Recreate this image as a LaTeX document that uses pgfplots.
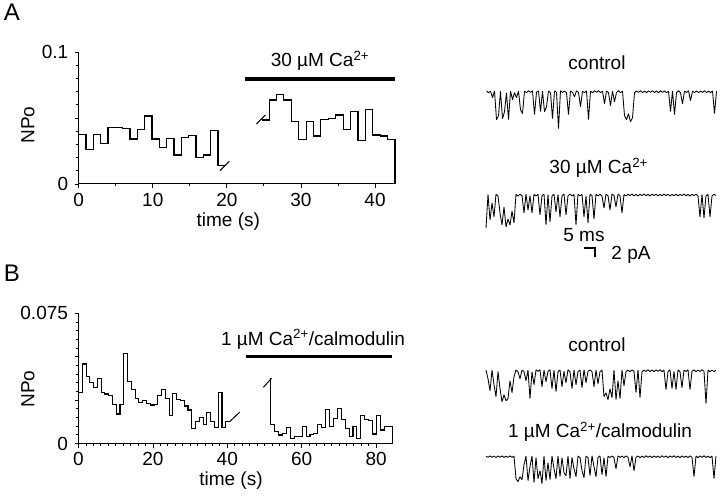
\documentclass[border=0pt]{standalone}
\usepackage{fontspec}
\setmainfont{Liberation Sans}
\usepackage{pgfplots}
\usepackage{pgfplotstable}
\pgfplotsset{compat=1.18}
\begin{document}
\fontsize{19}{22}\selectfont
\begin{tikzpicture}
\path[use as bounding box] (0pt,0pt) rectangle (720pt,-497pt);
\pgfplotsset{
  npo/.style={
    scale only axis, axis lines=left, axis line style={-, line width=1pt, black},
    tick align=outside, major tick length=4pt, minor tick length=2.5pt,
    tick style={black, line width=0.8pt},
    tick label style={font=\fontsize{19}{22}\selectfont},
    xticklabel style={inner sep=2pt, yshift=-3pt},
    /pgf/number format/assume math mode=true,
    scaled y ticks=false, scaled x ticks=false,
    clip=false, ymin=0,
  },
  hist/.style={const plot, black, line width=1.1pt, mark=none, line join=miter},
  slash/.style={black, line width=1pt, mark=none},
  bar/.style={black, line width=3.4pt, mark=none},
  trace/.style={scale only axis, hide axis, clip=false, xmin=0, xmax=230, ymin=-40, ymax=5, width=230pt, height=45pt},
  tr/.style={black, line width=0.85pt, mark=none, line join=bevel},
}
% ---------------- Panel A, NPo vs time ----------------
\begin{axis}[npo, at={(78.7pt,-184pt)}, anchor=south west,
  width=316.3pt, height=132pt, xmin=0, xmax=42.7, ymax=0.1,
  xtick={0,10,20,30,40}, minor tick num=1,
  ytick={0,0.05,0.1}, yticklabels={0,,0.1},
  minor ytick={0.01,0.02,0.03,0.04,0.06,0.07,0.08,0.09}]
\addplot[hist] coordinates {
 (0,0.0376) (0.99,0.0258) (1.98,0.0376) (2.97,0.0306) (3.96,0.0427) (4.95,0.0429)
 (5.94,0.0419) (6.93,0.0341) (7.92,0.0414) (8.91,0.0515) (9.9,0.0341) (10.89,0.0278)
 (11.88,0.0346) (12.87,0.0220) (13.86,0.0354) (14.85,0.0366) (15.84,0.0202) (16.83,0.0220)
 (17.82,0.0407) (18.81,0.0141) (19.7,0.0141)};
\addplot[slash] coordinates {(19.07,0.0101) (20.33,0.0172)};
\addplot[slash] coordinates {(24.0,0.0455) (25.2,0.0523)};
\addplot[hist] coordinates {
 (24.8,0.0485) (25.7,0.0636) (26.7,0.0679) (27.7,0.0636) (28.7,0.0473) (29.7,0.0339)
 (30.7,0.0473) (31.7,0.0364) (32.7,0.0490) (33.7,0.0497) (34.7,0.0523) (35.7,0.0414)
 (36.7,0.0548) (37.7,0.0327) (38.7,0.0561) (39.7,0.0371) (40.7,0.0364) (41.7,0.0339)
 (42.7,0.0339) (42.7,0)};
\addplot[bar] coordinates {(22.5,0.0795) (42.7,0.0795)};
\end{axis}
% ---------------- Panel B, NPo vs time ----------------
\begin{axis}[npo, at={(78.5pt,-443.5pt)}, anchor=south west,
  width=313.6pt, height=130.2pt, xmin=0, xmax=84.3, ymax=0.075,
  xtick={0,20,40,60,80}, minor tick num=9,
  ytick={0,0.025,0.05,0.075}, yticklabels={0,,,0.075},
  minor ytick={0.005,0.01,0.015,0.02,0.03,0.035,0.04,0.045,0.055,0.06,0.065,0.07}]
\addplot[hist] coordinates {
 (0,0.0295) (1.015,0.0458) (2.03,0.0385) (3.045,0.0350) (4.06,0.0323) (5.075,0.0375)
 (6.09,0.0293) (7.105,0.0285) (8.12,0.0274) (9.135,0.0227) (10.15,0.0170) (11.165,0.0227)
 (12.18,0.0516) (13.195,0.0356) (14.21,0.0312) (15.225,0.0260) (16.24,0.0235) (17.255,0.0250)
 (18.27,0.0231) (19.285,0.0222) (20.3,0.0227) (21.315,0.0274) (22.33,0.0312) (23.345,0.0260)
 (24.36,0.0159) (25.375,0.0289) (26.39,0.0254) (27.405,0.0248) (28.42,0.0216) (29.435,0.0193)
 (30.45,0.0088) (31.465,0.0126) (32.48,0.0150) (33.495,0.0107) (34.51,0.0177) (35.525,0.0126)
 (36.54,0.0094) (37.555,0.0293) (38.57,0.0094) (39.585,0.0125) (40.6,0.0125)};
\addplot[slash] coordinates {(40.6,0.0125) (43.3,0.0180)};
\addplot[slash] coordinates {(49.7,0.0324) (51.9,0.0376)};
\addplot[hist] coordinates {
 (51.7,0.0376) (51.7,0.0107) (52.75,0.0068) (53.80,0.0049) (54.85,0.0058) (55.91,0.0092)
 (56.96,0.0030) (58.01,0.0040) (59.06,0.0040) (60.11,0.0100) (61.17,0.0040) (62.22,0.0053)
 (63.27,0.0058) (64.32,0.0107) (65.37,0.0092) (66.43,0.0197) (67.48,0.0100) (68.53,0.0145)
 (69.58,0.0203) (70.63,0.0136) (71.69,0.0088) (72.74,0.0040) (73.79,0.0100) (74.84,0.0030)
 (75.89,0.0159) (76.95,0.0140) (78.00,0.0132) (79.05,0.0055) (80.10,0.0159) (81.15,0.0078)
 (82.21,0.0100) (83.26,0.0100) (84.3,0.0100) (84.3,0)};
\addplot[bar] coordinates {(44.9,0.05) (84.3,0.05)};
\end{axis}
% ---------------- Single-channel traces ----------------
\pgfplotstableread[header=false, row sep=\\]{
0.8\\-1\\0.5\\-6\\0.7\\-28\\-24\\0.5\\-27\\-20\\-1\\-28\\0.6\\-8\\-0.8\\-6\\0.8\\-18\\-22\\0.5\\
-1\\0.9\\-0.7\\1\\-23\\-0.5\\0.8\\-20\\0.6\\-20\\-15\\0.7\\-1\\-27\\0.8\\-0.6\\-37\\1\\-0.8\\0.6\\
-1\\-23\\0.8\\-0.7\\-5\\1\\-0.8\\-15\\0.6\\-1\\0.8\\-28\\0.5\\-1\\0.9\\-0.7\\1\\-0.9\\0.6\\-12\\
0.7\\-1\\-14\\0.5\\-10\\-0.8\\0.9\\-1\\0.6\\-24\\-28\\-22\\-30\\-26\\-1\\0.8\\-0.7\\1\\-0.9\\0.6\\
-1\\0.8\\-0.6\\1\\-0.8\\0.7\\-1\\0.9\\-0.6\\0.8\\-1\\0.5\\-20\\0.7\\-23\\-0.8\\0.9\\-1\\-12\\0.7\\
-0.8\\1\\-9\\0.5\\-0.9\\0.8\\-1\\0.6\\-0.7\\1\\-0.9\\0.6\\-1\\0.8\\-22\\0.5\\
}\trA
\pgfplotstableread[header=false, row sep=\\]{
-33\\0.5\\-25\\-8\\-22\\0.8\\-1\\-18\\-30\\-12\\-32\\-24\\-30\\-16\\-28\\0.7\\-1\\0.8\\-0.6\\-18\\
0.9\\-15\\-0.8\\-18\\0.6\\-1\\0.8\\-20\\-0.7\\1\\-30\\0.5\\-27\\-1\\0.8\\-17\\0.6\\-22\\-0.8\\1\\
-20\\-0.7\\0.8\\-1\\0.6\\-30\\0.9\\-0.8\\0.6\\-22\\-1\\-28\\0.8\\-0.6\\-24\\1\\-0.9\\0.6\\-1\\-13\\
0.8\\-0.7\\-15\\0.9\\-0.6\\-12\\1\\-0.8\\-18\\0.5\\-1\\0.8\\-0.7\\1\\-0.9\\0.6\\-1\\0.8\\-0.6\\1\\
-0.8\\0.7\\-1\\0.9\\-0.6\\0.8\\-1\\0.6\\-0.8\\1\\-0.7\\0.8\\-1\\0.6\\-0.8\\0.9\\-1\\0.7\\-0.6\\1\\
-0.9\\0.6\\-1\\0.8\\-0.7\\0.9\\-1\\-22\\0.6\\-23\\-0.8\\0.7\\-22\\-1\\0.8\\-0.5\\
}\trAca
\pgfplotstableread[header=false, row sep=\\]{
0.6\\-8\\-20\\0.5\\-14\\-26\\-0.8\\-18\\-31\\-24\\-30\\-28\\-10\\-22\\-6\\0.8\\-1\\-8\\0.6\\-0.8\\
-10\\0.7\\-28\\-1\\-14\\0.8\\-0.7\\1\\-16\\0.6\\-11\\-0.8\\0.9\\-18\\0.6\\-21\\-1\\0.8\\-16\\-0.6\\
-12\\0.9\\-1\\-18\\0.7\\-14\\-0.8\\0.6\\-17\\1\\-12\\-0.7\\0.8\\-1\\-16\\0.6\\-13\\-0.9\\0.7\\-26\\
-22\\-29\\-18\\-27\\0.6\\-29\\-10\\-28\\0.8\\-15\\-0.9\\0.6\\-1\\0.8\\-0.7\\-22\\0.9\\-27\\-1\\0.6\\
-0.8\\1\\-0.9\\0.7\\-1\\0.8\\-0.6\\0.9\\-1\\0.6\\-19\\-0.8\\1\\-18\\-0.7\\-19\\0.8\\-1\\-17\\0.6\\
-0.8\\1\\-19\\-0.7\\0.8\\-1\\0.6\\-0.9\\1\\-0.6\\-33\\0.8\\-1\\0.6\\-0.8\\0.5\\
}\trB
\pgfplotstableread[header=false, row sep=\\]{
0.5\\-0.6\\0.8\\-0.5\\0.6\\-0.8\\0.7\\-0.6\\0.8\\-0.7\\0.5\\-0.6\\0.8\\-0.7\\0.6\\-22\\-25\\-20\\-23\\-8\\
0.6\\-24\\-10\\0.7\\-26\\-0.8\\-22\\-14\\-27\\0.8\\-24\\-6\\-23\\0.7\\-12\\-22\\0.8\\-20\\-1\\-16\\
-19\\0.6\\-22\\-0.8\\-12\\-20\\0.7\\-1\\-14\\-21\\0.6\\-0.8\\-19\\0.9\\-10\\-20\\-0.7\\0.8\\-18\\-1\\
-20\\0.6\\-0.8\\0.7\\-1\\-12\\0.8\\-0.7\\0.6\\-1\\0.8\\-0.6\\-10\\0.9\\-14\\-0.8\\0.7\\-1\\0.6\\-0.8\\
0.9\\-0.6\\0.7\\-1\\0.8\\-0.7\\0.6\\-0.9\\1\\-0.6\\0.8\\-1\\0.7\\-0.6\\0.9\\-0.8\\0.6\\-1\\0.8\\-0.7\\
0.6\\-0.9\\0.8\\-0.6\\-20\\0.7\\-1\\0.8\\-0.6\\0.9\\-0.8\\0.6\\-1\\0.7\\-22\\0.5\\
}\trBcam
\begin{axis}[trace, at={(486.5pt,-131.7pt)}, anchor=south west]
\addplot[tr] table[x expr=\coordindex*2, y index=0] {\trA};
\end{axis}
\begin{axis}[trace, at={(486pt,-235pt)}, anchor=south west]
\addplot[tr] table[x expr=\coordindex*2, y index=0] {\trAca};
\addplot[black, line width=2.2pt, mark=none] coordinates {(98.3,-53.3) (109,-53.3) (109,-62.3)};
\end{axis}
\begin{axis}[trace, at={(486pt,-410.7pt)}, anchor=south west]
\addplot[tr] table[x expr=\coordindex*2, y index=0] {\trB};
\end{axis}
\begin{axis}[trace, at={(486pt,-496.7pt)}, anchor=south west]
\addplot[tr] table[x expr=\coordindex*2, y index=0] {\trBcam};
\end{axis}
% ---------------- Text ----------------
\node[anchor=base, inner sep=0pt, font=\fontsize{24}{26}\selectfont] at (12pt,-21pt) {A};
\node[anchor=base, inner sep=0pt, font=\fontsize{24}{26}\selectfont] at (12pt,-281pt) {B};
\node[rotate=90, inner sep=0pt] at (28pt,-125pt) {NPo};
\node[rotate=90, inner sep=0pt] at (28pt,-389pt) {NPo};
\node[anchor=base, inner sep=0pt] at (228.3pt,-226pt) {time (s)};
\node[anchor=base, inner sep=0pt] at (231pt,-485pt) {time (s)};
\node[anchor=base, inner sep=0pt] at (320pt,-67pt) {30 µM Ca\textsuperscript{2+}};
\node[anchor=base, inner sep=0pt] at (313pt,-345pt) {1 µM Ca\textsuperscript{2+}/calmodulin};
\node[anchor=base, inner sep=0pt] at (597pt,-69.3pt) {control};
\node[anchor=base, inner sep=0pt] at (598.7pt,-173.3pt) {30 µM Ca\textsuperscript{2+}};
\node[anchor=base, inner sep=0pt] at (584pt,-241pt) {5 ms};
\node[anchor=base, inner sep=0pt] at (631pt,-259pt) {2 pA};
\node[anchor=base, inner sep=0pt] at (597pt,-351.7pt) {control};
\node[anchor=base, inner sep=0pt] at (600pt,-437.7pt) {1 µM Ca\textsuperscript{2+}/calmodulin};
\end{tikzpicture}
\end{document}
